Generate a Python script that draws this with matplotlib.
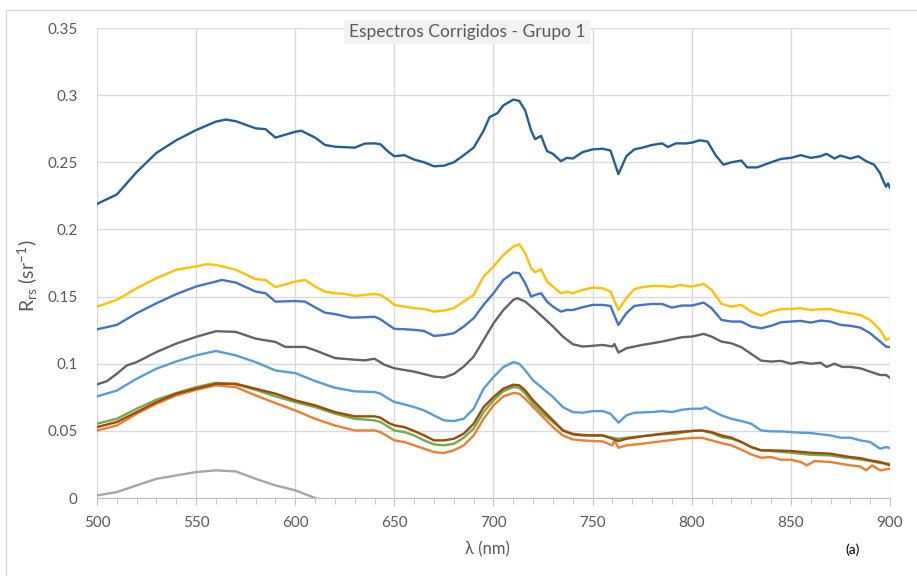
import matplotlib
matplotlib.use("Agg")
import matplotlib.pyplot as plt
from matplotlib.patches import Rectangle
from matplotlib.ticker import MultipleLocator

plt.rcParams['font.family'] = ['Lato', 'DejaVu Sans']
plt.rcParams['mathtext.fontset'] = 'custom'
plt.rcParams['mathtext.rm'] = 'Lato'
plt.rcParams['mathtext.it'] = 'Lato:italic'

# --- data (wavelength nm, Rrs sr^-1) ---
wl_lblue = [500, 510, 520, 530, 540, 550, 560, 570, 580, 590, 600, 610, 620, 630, 640, 643, 647, 650, 655, 660,
            665, 670, 675, 680, 685, 690, 695, 700, 705, 710, 713, 716, 720, 725, 730, 735, 740, 745, 750, 755,
            759, 763, 767, 771, 780, 785, 790, 795, 800, 805, 807, 810, 815, 820, 825, 830, 835, 840, 845, 850,
            855, 860, 865, 870, 875, 880, 885, 890, 895, 898, 900]
r_lblue = [.0757, .080, .0888, .0963, .1017, .1062, .1095, .1062, .1012, .095, .093, .0871, .0821, .0794, .0789,
           .0777, .0740, .0715, .0697, .0677, .0652, .0615, .0578, .0573, .059, .0665, .0814, .0901, .0975, .1012,
           .100, .095, .0876, .0814, .0752, .0677, .064, .0635, .0647, .0647, .0628, .0561, .0615, .0635, .064,
           .0647, .064, .0657, .0665, .0665, .0677, .0652, .0615, .059, .0573, .0553, .0503, .0496, .0496, .0491,
           .0486, .0484, .0474, .0466, .0449, .0449, .0429, .0417, .0367, .0379, .0372]

wl_orange = [500, 510, 520, 530, 540, 550, 560, 570, 580, 590, 600, 610, 620, 630, 640, 643, 647, 650, 655, 660,
             665, 670, 675, 680, 685, 690, 695, 700, 705, 710, 713, 716, 720, 725, 730, 735, 740, 745, 750, 755,
             760, 761, 763, 767, 775, 785, 795, 800, 805, 810, 815, 820, 825, 830, 835, 840, 845, 850, 855, 858,
             862, 870, 875, 880, 885, 888, 891, 895, 900]
r_orange = [.0503, .054, .0628, .0702, .0764, .0806, .0839, .0826, .0764, .0707, .0652, .059, .054, .0503, .0503,
            .0491, .0455, .0429, .0417, .0392, .0367, .0342, .0335, .0355, .0392, .0466, .059, .069, .0757, .0782,
            .0777, .0739, .0677, .0603, .0528, .0466, .0436, .0429, .0424, .0422, .0392, .0429, .0374, .0392,
            .0404, .0423, .0441, .0446, .0449, .0429, .0409, .0392, .036, .0325, .030, .0305, .0285, .0285, .0268,
            .0243, .0275, .0268, .0255, .0243, .0235, .0206, .0243, .0206, .0218]

wl_lgrey = [500, 510, 520, 530, 540, 550, 560, 570, 580, 590, 600, 610, 620]
r_lgrey = [.0019, .0044, .0094, .0143, .0168, .0193, .0206, .0198, .0143, .0094, .0057, .0, -.006]

wl_yellow = [500, 510, 520, 530, 540, 550, 555, 560, 570, 580, 585, 590, 600, 605, 610, 615, 620, 625, 630, 640,
             643, 647, 650, 655, 660, 665, 670, 675, 680, 685, 690, 695, 700, 705, 710, 713, 716, 719, 721, 724,
             727, 730, 734, 737, 740, 745, 750, 755, 759, 763, 767, 771, 775, 780, 785, 790, 794, 800, 806, 810,
             815, 820, 825, 830, 835, 840, 845, 850, 855, 860, 865, 870, 875, 880, 885, 890, 895, 898, 900]
r_yellow = [.1425, .1475, .1562, .1637, .170, .1724, .1741, .1736, .170, .163, .1624, .157, .1612, .1624, .1575,
            .1537, .1525, .152, .1505, .152, .1512, .1475, .1438, .1425, .1413, .1408, .1388, .1396, .1413, .1463,
            .1512, .1649, .1723, .181, .1872, .189, .1823, .1711, .1681, .1704, .1612, .1574, .1525, .1537, .1525,
            .155, .1567, .1562, .1537, .140, .1488, .1555, .157, .1579, .1579, .157, .1587, .1574, .1594, .155,
            .1445, .1425, .1438, .1388, .1358, .1388, .1406, .1408, .1413, .140, .1406, .1406, .1388, .1376, .1363,
            .1326, .1252, .1177, .119]

wl_blue = [500, 510, 520, 530, 540, 550, 560, 563, 570, 580, 585, 590, 600, 605, 610, 615, 620, 628, 635, 640,
           643, 647, 650, 655, 660, 665, 670, 675, 680, 685, 690, 695, 700, 705, 710, 713, 716, 719, 721, 724,
           727, 730, 734, 737, 740, 745, 750, 755, 759, 763, 767, 771, 775, 780, 785, 790, 795, 800, 806, 810,
           815, 820, 825, 830, 835, 840, 845, 850, 855, 860, 865, 870, 875, 880, 885, 890, 895, 898, 900]
r_blue = [.1256, .1289, .1376, .145, .1518, .1575, .1612, .1624, .1604, .1537, .1525, .1462, .1467, .1462, .142,
          .138, .137, .1343, .1346, .135, .1331, .1289, .1259, .1257, .1252, .1244, .1207, .1214, .1227, .1277,
          .1339, .1438, .1525, .1624, .1679, .1674, .1599, .150, .1512, .1525, .1463, .1425, .1388, .140, .140,
          .1421, .1438, .1438, .143, .1289, .1376, .143, .1438, .1445, .1445, .1418, .1433, .1433, .1455, .1413,
          .1326, .1314, .1314, .1277, .1264, .1282, .1309, .1314, .1319, .1306, .1321, .1314, .1289, .1282, .1269,
          .1227, .1165, .1128, .1123]

wl_green = [500, 510, 520, 530, 540, 550, 560, 570, 580, 590, 600, 610, 620, 630, 640, 643, 647, 650, 655, 660,
            665, 670, 675, 680, 685, 690, 695, 700, 705, 710, 713, 716, 720, 725, 730, 735, 740, 745, 750, 755,
            760, 763, 767, 775, 785, 792, 800, 805, 810, 815, 820, 825, 830, 835, 840, 850, 860, 870, 875, 880,
            885, 890, 895, 900]
r_green = [.0553, .059, .0665, .0732, .0782, .0826, .0858, .0846, .0806, .0757, .0714, .0677, .0628, .059, .0578,
           .0566, .053, .0503, .0491, .0466, .0429, .0399, .0392, .0404, .0449, .0516, .064, .0727, .0796, .0826,
           .0821, .0777, .0702, .0628, .0566, .0503, .0479, .0471, .0466, .0466, .0449, .0441, .0449, .0461, .0475,
           .0479, .0499, .0503, .0484, .0454, .0441, .0417, .0379, .0355, .035, .0337, .0322, .0317, .0305, .0297,
           .0287, .0275, .026, .0255]

wl_dblue = [500, 510, 520, 530, 540, 550, 560, 565, 570, 580, 585, 590, 600, 603, 610, 615, 620, 630, 635, 640,
            643, 647, 650, 655, 660, 665, 670, 675, 680, 685, 690, 695, 698, 702, 705, 710, 713, 716, 719, 721,
            724, 727, 730, 734, 737, 740, 745, 750, 755, 759, 763, 767, 771, 775, 780, 785, 788, 792, 797, 800,
            804, 808, 812, 816, 820, 825, 828, 833, 840, 845, 850, 855, 860, 865, 868, 872, 875, 880, 884, 888,
            892, 895, 896, 898, 899, 900]
r_dblue = [.219, .226, .2427, .257, .2664, .274, .2803, .2818, .2806, .2753, .2747, .2684, .2727, .2735, .2684,
           .2629, .2616, .2609, .2639, .2641, .2634, .2578, .2545, .2553, .252, .250, .247, .2475, .250, .2553,
           .2609, .2735, .2836, .2866, .2924, .2967, .2957, .2886, .2735, .2672, .2697, .2583, .2563, .2508, .2533,
           .2528, .2576, .2596, .2601, .2588, .2412, .2545, .2596, .2609, .2629, .2641, .2614, .2641, .264, .2646,
           .2664, .2654, .2553, .2482, .250, .2513, .2462, .2462, .250, .2525, .2533, .2553, .2533, .2545, .2563,
           .2528, .255, .2528, .2545, .2508, .2482, .2419, .2381, .2318, .2343, .231]

wl_brown = [500, 510, 520, 530, 540, 550, 560, 570, 580, 590, 600, 610, 620, 630, 640, 643, 647, 650, 655, 660,
            665, 670, 675, 680, 685, 690, 695, 700, 705, 710, 713, 716, 720, 725, 730, 735, 740, 745, 750, 755,
            760, 763, 767, 775, 785, 792, 800, 805, 810, 815, 820, 825, 830, 835, 840, 850, 860, 870, 875, 880,
            885, 890, 895, 900]
r_brown = [.0528, .0566, .064, .0714, .0777, .0814, .0851, .0851, .0814, .0777, .0727, .069, .064, .0608, .0608,
           .0598, .056, .0541, .0528, .0499, .0466, .0429, .0429, .0441, .0479, .0553, .0677, .0752, .0814, .0844,
           .0839, .0801, .0727, .0652, .0578, .0503, .0474, .0466, .0466, .0466, .0441, .0424, .0441, .0459, .0478,
           .0491, .0499, .0503, .0491, .0466, .0449, .0417, .0379, .0355, .0355, .035, .0337, .033, .0317, .0305,
           .0297, .028, .0268, .0243]

wl_dgrey = [500, 505, 510, 515, 520, 530, 540, 550, 560, 570, 580, 590, 595, 600, 605, 610, 620, 630, 635, 640,
            645, 650, 660, 670, 675, 680, 685, 690, 695, 700, 705, 710, 712, 716, 720, 725, 730, 735, 740, 745,
            750, 755, 760, 761, 763, 767, 775, 780, 785, 795, 800, 806, 810, 815, 820, 825, 830, 835, 840, 845,
            850, 855, 860, 865, 868, 872, 876, 880, 885, 890, 895, 898, 900]
r_dgrey = [.0846, .087, .0925, .0987, .1012, .1087, .115, .120, .1242, .1237, .1187, .1162, .1125, .1125, .1125,
           .110, .1042, .103, .1025, .1037, .0992, .0966, .0941, .0904, .0897, .0924, .0979, .1053, .1177, .1301,
           .140, .1475, .1488, .1463, .1413, .1346, .1277, .1202, .1145, .1128, .1133, .114, .1128, .1147, .1083,
           .1115, .114, .1152, .1165, .1197, .1202, .1222, .1202, .1165, .1152, .1123, .1073, .1023, .1016, .1021,
           .100, .1012, .100, .1007, .0976, .100, .0976, .0976, .0966, .0941, .0916, .0916, .0895]

series = [(wl_lblue, r_lblue, '#5B9BD5'), (wl_orange, r_orange, '#ED7D31'), (wl_lgrey, r_lgrey, '#A5A5A5'),
          (wl_yellow, r_yellow, '#FFC000'), (wl_blue, r_blue, '#4472C4'), (wl_green, r_green, '#70AD47'),
          (wl_dblue, r_dblue, '#255E91'), (wl_brown, r_brown, '#9E480E'), (wl_dgrey, r_dgrey, '#636363')]

fig = plt.figure(figsize=(9.17, 5.76), dpi=100)
ax = fig.add_axes([97 / 917, 1 - 498 / 576, 793 / 917, 470 / 576])

# outer chart border like the Excel chart area
fig.patches.append(Rectangle((6 / 917, -0.01), 1.0, 1 - 10 / 576 + 0.01, transform=fig.transFigure,
                             fill=False, edgecolor='#D9D9D9', linewidth=1.0))

for wl, r, c in series:
    ax.plot(wl, r, color=c, linewidth=1.7, solid_joinstyle='round')

ax.set_xlim(500, 900)
ax.set_ylim(0, 0.35)
ax.xaxis.set_major_locator(MultipleLocator(50))
ax.xaxis.set_minor_locator(MultipleLocator(10))
ax.yaxis.set_major_locator(MultipleLocator(0.05))
ax.grid(True, which='major', color='#D9D9D9', linewidth=1.0)
ax.set_axisbelow(True)
for s in ['top', 'right', 'left']:
    ax.spines[s].set_visible(False)
ax.spines['bottom'].set_color('#BFBFBF')
ax.tick_params(axis='x', which='both', colors='#BFBFBF', labelcolor='#595959', labelsize=11, pad=8)
ax.tick_params(axis='x', which='major', length=5)
ax.tick_params(axis='x', which='minor', length=4)
ax.tick_params(axis='y', length=0, labelcolor='#595959', labelsize=11, pad=14)
ax.set_yticks([0, 0.05, 0.1, 0.15, 0.2, 0.25, 0.3, 0.35])
ax.set_yticklabels(['0', '0.05', '0.1', '0.15', '0.2', '0.25', '0.3', '0.35'])

fig.text(467 / 917, 1 - 32 / 576, 'Espectros Corrigidos - Grupo 1', ha='center', va='center', fontsize=12.5,
         color='#595959', bbox=dict(boxstyle='square,pad=0.25', facecolor='#F2F2F2', edgecolor='none'))
fig.text(487 / 917, 1 - 549 / 576, 'λ (nm)', ha='center', va='center', fontsize=12, color='#595959')
fig.text(853 / 917, 1 - 550 / 576, '(a)', ha='center', va='center', fontsize=10, color='black')
fig.text(28 / 917, 1 - 276 / 576, r'R$_{\mathrm{rs}}$ (sr$^{-1}$)', ha='center', va='center', rotation=90,
         fontsize=14, color='#595959')

fig.savefig('out.png', dpi=100)
